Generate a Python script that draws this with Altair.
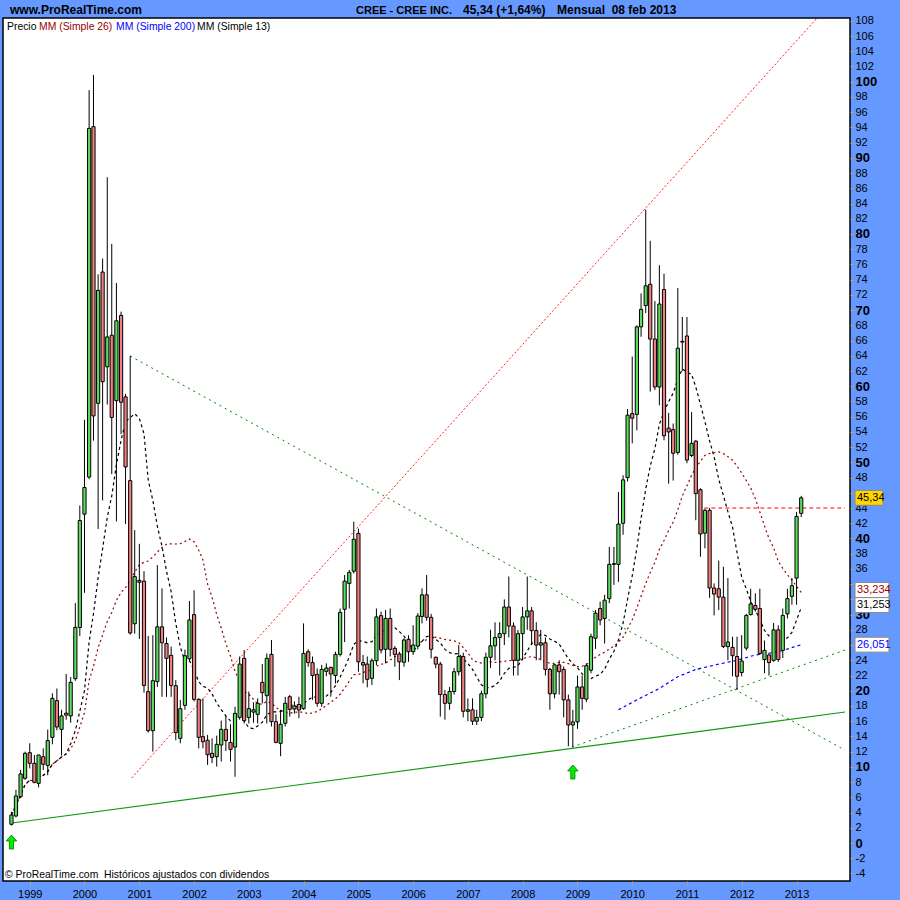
import altair as alt
import pandas as pd

# ---- Monthly OHLC bars, CREE INC., Sep 1998 .. Feb 2013 ----
opens = [
    2.46, 3.55, 6.09, 8.5, 11.87, 10.47, 7.84, 11.34, 10.2, 13.88,
    18.7, 14.93, 17.05, 16.69, 21.59, 28.3, 43.2, 48.07, 94.1, 57.76,
    75.0, 62.55, 66.7, 58.1, 69.3, 58.6, 47.6, 28.8, 34.5, 34.4,
    19.88, 14.76, 21.2, 28.4, 26.2, 24.65, 20.67, 13.75, 18.08, 24.2,
    30.0, 18.87, 13.97, 13.5, 11.78, 11.34, 12.87, 14.93, 13.2, 12.6,
    16.5, 24.26, 16.5, 17.2, 16.9, 21.1, 19.35, 24.78, 15.94, 13.09,
    15.72, 19.22, 17.6, 18.2, 17.65, 25.13, 23.7, 22.15, 18.35, 22.55,
    23.07, 22.0, 24.78, 30.7, 34.1, 35.7, 40.67, 23.7, 23.5, 21.63,
    23.95, 29.86, 25.44, 29.5, 25.57, 24.83, 23.74, 26.76, 25.13, 25.87,
    29.76, 32.6, 29.64, 24.4, 23.5, 19.5, 18.35, 19.9, 22.5, 24.5,
    17.3, 17.5, 16.0, 16.5, 19.6, 24.4, 25.9, 27.0, 27.5, 31.0,
    28.5, 24.0, 27.5, 29.7, 30.5, 27.9, 26.0, 26.3, 22.8, 19.6,
    23.4, 22.8, 18.8, 15.5, 15.9, 20.5, 18.9, 22.7, 26.9, 30.8,
    29.5, 32.1, 36.6, 36.6, 42.0, 48.0, 56.4, 56.3, 67.8, 70.6,
    73.4, 66.2, 59.9, 72.7, 54.5, 54.3, 51.3, 65.8, 66.6, 50.9,
    52.8, 46.4, 40.7, 43.7, 33.5, 33.4, 32.3, 25.8, 25.7, 24.5,
    22.4, 25.6, 30.0, 31.2, 30.8, 24.1, 24.7, 24.0, 28.0, 25.3,
    30.1, 32.4, 34.8, 43.3,
]
highs = [
    4.1, 6.97, 9.6, 12.0, 13.1, 11.56, 11.6, 12.44, 14.9, 19.66,
    20.3, 17.5, 22.2, 21.8, 31.5, 44.33, 55.6, 98.9, 100.9, 74.7,
    76.77, 87.45, 78.7, 73.56, 69.8, 59.0, 64.0, 41.1, 39.3, 35.7,
    27.2, 27.3, 36.5, 33.45, 27.0, 25.8, 21.4, 18.8, 25.4, 31.8,
    33.2, 19.0, 19.0, 14.2, 13.75, 14.1, 16.07, 16.7, 15.6, 17.9,
    24.5, 25.35, 19.9, 18.5, 19.0, 23.5, 24.9, 26.67, 16.9, 17.5,
    19.2, 19.44, 18.6, 19.2, 28.85, 25.44, 24.5, 22.94, 23.4, 23.6,
    23.16, 25.13, 30.8, 35.2, 35.86, 42.2, 41.3, 24.7, 24.5, 24.26,
    30.8, 30.4, 30.6, 30.8, 25.87, 25.13, 26.9, 27.3, 28.6, 30.2,
    33.45, 35.2, 30.1, 24.5, 23.8, 20.1, 20.5, 23.0, 26.0, 25.0,
    19.0, 19.0, 17.5, 20.0, 25.0, 28.0, 29.0, 29.0, 32.0, 35.0,
    29.0, 28.0, 31.0, 35.0, 31.0, 29.0, 28.0, 27.0, 23.0, 23.5,
    24.0, 23.2, 19.5, 17.5, 22.0, 22.0, 23.6, 27.5, 30.6, 31.7,
    32.6, 38.9, 38.9, 46.1, 48.3, 57.0, 63.9, 68.0, 72.2, 83.2,
    79.1, 71.2, 75.9, 74.8, 56.5, 55.1, 72.9, 69.1, 69.1, 56.6,
    52.9, 46.6, 43.9, 44.0, 34.1, 37.1, 36.3, 34.8, 27.1, 27.1,
    27.3, 30.1, 33.4, 32.8, 33.4, 26.6, 24.9, 28.9, 28.6, 30.8,
    33.4, 34.8, 43.5, 45.6,
]
lows = [
    2.3, 3.37, 5.9, 8.3, 9.8, 7.84, 7.3, 9.6, 8.9, 12.96,
    14.8, 11.48, 16.2, 15.8, 21.3, 27.2, 32.86, 47.8, 52.85, 41.25,
    45.0, 57.6, 48.46, 42.24, 53.7, 41.9, 27.36, 27.5, 26.8, 19.75,
    14.5, 12.0, 20.5, 19.2, 19.2, 19.2, 13.5, 13.1, 17.5, 23.8,
    18.6, 12.44, 12.44, 10.25, 10.5, 10.03, 10.7, 12.1, 10.7, 8.7,
    16.2, 15.7, 15.7, 15.8, 15.7, 18.35, 15.7, 15.3, 13.1, 11.4,
    15.3, 16.6, 17.0, 16.4, 17.5, 23.16, 18.8, 17.9, 17.9, 21.9,
    19.22, 20.97, 24.5, 26.4, 30.8, 35.4, 22.5, 20.97, 20.45, 20.75,
    23.38, 24.9, 23.6, 24.5, 23.16, 21.4, 23.16, 23.8, 24.7, 25.44,
    28.85, 29.2, 24.26, 22.94, 16.6, 16.2, 17.5, 19.5, 22.0, 16.5,
    16.0, 15.5, 15.5, 16.0, 19.0, 23.0, 24.0, 22.0, 26.0, 27.0,
    22.0, 22.0, 24.0, 28.0, 26.0, 24.0, 24.0, 22.0, 17.5, 19.0,
    19.5, 16.5, 12.7, 12.6, 15.0, 17.5, 18.5, 22.3, 25.5, 28.6,
    26.2, 31.5, 33.9, 34.3, 40.5, 47.5, 52.5, 54.2, 66.5, 69.6,
    59.3, 59.5, 57.5, 52.9, 47.2, 47.6, 51.0, 62.0, 49.9, 50.7,
    42.4, 37.6, 38.7, 32.2, 29.9, 30.6, 25.6, 24.0, 21.9, 20.1,
    21.9, 25.3, 29.9, 30.4, 24.7, 22.3, 22.0, 23.8, 23.8, 24.3,
    29.5, 31.3, 31.3, 42.8,
]
closes = [
    3.68, 6.18, 9.07, 11.78, 10.47, 7.97, 11.56, 10.34, 13.45, 19.0,
    15.24, 16.69, 16.8, 21.1, 28.33, 42.36, 46.7, 93.87, 56.1, 72.6,
    60.6, 66.48, 55.9, 68.6, 57.9, 49.4, 27.6, 35.0, 34.25, 20.7,
    14.76, 21.32, 28.4, 26.3, 24.26, 20.67, 14.5, 17.65, 24.6, 29.3,
    18.87, 13.88, 13.3, 11.6, 11.25, 12.96, 14.93, 13.45, 12.3, 17.03,
    23.5, 16.07, 17.65, 17.5, 18.35, 19.75, 24.26, 15.94, 13.22, 15.6,
    18.35, 17.56, 18.0, 17.47, 24.9, 23.7, 22.0, 18.35, 22.8, 22.99,
    22.2, 24.78, 30.3, 34.4, 35.55, 39.9, 23.8, 23.38, 21.5, 23.95,
    29.7, 25.35, 29.5, 25.44, 24.78, 23.8, 26.67, 25.13, 26.0, 29.82,
    32.6, 29.64, 25.44, 23.5, 19.5, 18.35, 19.9, 22.5, 24.5, 17.3,
    17.5, 16.0, 16.5, 19.6, 24.4, 25.9, 27.0, 27.5, 31.0, 28.5,
    24.0, 27.5, 29.7, 30.5, 27.9, 26.0, 26.3, 22.8, 19.6, 23.4,
    22.5, 18.8, 15.5, 15.9, 20.5, 19.0, 23.3, 27.1, 30.2, 29.3,
    31.9, 36.6, 36.7, 41.9, 47.7, 56.2, 55.8, 67.8, 70.1, 73.2,
    66.2, 59.9, 70.8, 53.5, 54.0, 51.2, 65.0, 65.9, 50.3, 52.5,
    45.9, 40.6, 43.7, 33.5, 32.7, 32.3, 25.8, 26.4, 24.6, 21.9,
    23.9, 29.9, 31.4, 30.7, 24.9, 25.3, 23.7, 28.0, 24.1, 29.9,
    32.1, 33.8, 42.9, 45.34,
]
months = pd.date_range("1998-09-01", periods=len(closes), freq="MS").strftime("%Y-%m-%d").tolist()

# 200-month simple average (needs history older than the bars shown)
ma200_dates = ["2009-10-01", "2010-02-01", "2010-07-01", "2010-11-01", "2011-03-01",
               "2011-08-01", "2011-12-01", "2012-04-01", "2012-09-01", "2013-02-01"]
ma200_values = [17.5, 18.8, 20.3, 21.85, 22.8, 23.5, 24.0, 24.7, 25.1, 26.051]

# Hand-drawn trend lines: (start date, end date), (start value, end value)
red_trend_dates = ["2000-11-10", "2013-05-18"]
red_trend_values = [8.54, 108.37]
green_down_dates = ["2000-11-01", "2013-11-20"]
green_down_values = [63.97, 12.2]
green_support_dates = ["1998-09-04", "2013-11-20"]
green_support_values = [2.63, 17.21]
green_up_dates = ["2008-11-25", "2013-11-20"]
green_up_values = [12.6, 25.35]
level44_dates = ["2011-04-27", "2013-11-20"]
level44_values = [44.0, 44.0]

# Last values shown in the price-axis badges
badge_values = [45.34, 33.234, 31.253, 26.051]
badge_texts = ["45,34", "33,234", "31,253", "26,051"]
badge_text_colors = ["#000000", "#990000", "#000000", "#0000ff"]
badge_fills = ["#ffd700", "#ffffff", "#ffffff", "#ffffff"]

year_ticks = list(range(1999, 2014))
price_ticks = list(range(-4, 109, 2))
covered_ticks = [46, 34, 32, 26]  # labels sitting under the badges

arrow_dates = ["1998-09-01", "2008-12-01"]
arrow_values = [0.13, 9.33]

BLUE = "#6699ff"
GREEN_BODY = "#5ddc5d"
RED_BODY = "#f08080"
FONT = "Liberation Sans"
TICK = "#b8a070"

bars = pd.DataFrame({"date": months, "open": opens, "high": highs,
                     "low": lows, "close": closes})

x_scale = alt.Scale(type="utc",
                    domain=[alt.DateTime(year=1998, month=8, date=9, utc=True),
                            alt.DateTime(year=2013, month=11, date=20, utc=True)])
y_scale = alt.Scale(domain=[-4.99, 108.37], nice=False, zero=False)

x_axis = alt.Axis(
    values=[alt.DateTime(year=y, month=1, date=1, utc=True) for y in year_ticks],
    format="%Y", formatType="utc", grid=False, domain=False,
    tickSize=4, tickColor=TICK, labelPadding=3, labelFont=FONT,
    labelFontSize=11, labelColor="black", title=None,
)
covered = ",".join(str(v) for v in covered_ticks)
y_axis = alt.Axis(
    orient="right", values=price_ticks, grid=False, domain=False,
    tickSize=4, tickColor=TICK, labelPadding=1, labelFont=FONT,
    labelColor="black",
    labelExpr=f"indexof([{covered}], datum.value) >= 0 ? '' : datum.value + ''",
    labelFontWeight={"condition": {"test": "datum.value % 10 === 0", "value": "bold"},
                     "value": "normal"},
    labelFontSize={"condition": {"test": "datum.value % 10 === 0", "value": 13},
                   "value": 11},
    labelOverlap=False, title=None,
)


def X(field="date"):
    return alt.X(f"{field}:T", scale=x_scale, axis=x_axis, title=None)


def Y(field):
    return alt.Y(f"{field}:Q", scale=y_scale, axis=y_axis, title=None)


def segment(dates, values, color, dash=None, width=1.0):
    df = pd.DataFrame({"date": dates, "v": values})
    kw = dict(color=color, strokeWidth=width, clip=True)
    if dash:
        kw["strokeDash"] = dash
    return alt.Chart(df).mark_line(**kw).encode(x=X(), y=Y("v"))


layers = []

# trend lines
layers.append(segment(green_support_dates, green_support_values, "#119911", width=1.2))
layers.append(segment(green_down_dates, green_down_values, "#008800", dash=[2, 4]))
layers.append(segment(green_up_dates, green_up_values, "#008800", dash=[2, 4]))
layers.append(segment(red_trend_dates, red_trend_values, "#ff2020", dash=[2, 2]))
layers.append(segment(level44_dates, level44_values, "#ff0000", dash=[4, 3]))

# moving averages
ma = alt.Chart(bars).transform_window(
    ma13="mean(close)", frame=[-12, 0], sort=[alt.SortField("date")]
).transform_window(
    ma26="mean(close)", frame=[-25, 0], sort=[alt.SortField("date")]
)
layers.append(ma.mark_line(color="#990000", strokeWidth=1.2, strokeDash=[2, 3]).encode(x=X(), y=Y("ma26")))
layers.append(ma.mark_line(color="#000000", strokeWidth=1.2, strokeDash=[3, 3]).encode(x=X(), y=Y("ma13")))
layers.append(
    alt.Chart(pd.DataFrame({"date": ma200_dates, "v": ma200_values}))
    .mark_line(color="#0000ff", strokeWidth=1.2, strokeDash=[3, 3])
    .encode(x=X(), y=Y("v"))
)

# candles: wicks then bodies
layers.append(alt.Chart(bars).mark_rule(color="black", strokeWidth=1).encode(x=X(), y=Y("low"), y2="high:Q"))
layers.append(
    alt.Chart(bars).mark_bar(size=3.2, stroke="black", strokeWidth=1).encode(
        x=X(), y=Y("open"), y2="close:Q",
        color=alt.condition("datum.close >= datum.open", alt.value(GREEN_BODY), alt.value(RED_BODY)),
    )
)

# green signal arrows
arrow_path = "M0,-1L0.75,-0.15L0.3,-0.15L0.3,1L-0.3,1L-0.3,-0.15L-0.75,-0.15Z"
layers.append(
    alt.Chart(pd.DataFrame({"date": arrow_dates, "v": arrow_values}))
    .mark_point(shape=arrow_path, size=196, filled=True, fill="#00ee00",
                stroke="#007700", strokeWidth=0.8, opacity=1)
    .encode(x=X(), y=Y("v"))
)

# price badges on the right axis
for val, txt, tcol, fcol in zip(badge_values, badge_texts, badge_text_colors, badge_fills):
    w = 28 if len(txt) == 5 else 34
    bdf = pd.DataFrame({"top": [val + 0.98], "bot": [val - 0.98], "v": [val], "t": [txt]})
    layers.append(
        alt.Chart(bdf).mark_rect(fill=fcol, stroke="#888888", strokeWidth=1)
        .encode(x=alt.value(852), x2=alt.value(852 + w), y=Y("top"), y2="bot:Q")
    )
    layers.append(
        alt.Chart(bdf).mark_text(align="left", baseline="middle", font=FONT, fontSize=11, color=tcol)
        .encode(x=alt.value(854), y=Y("v"), text="t:N")
    )


def label(txt, px, py, color="black", bold=False, size=10.4):
    return alt.Chart(pd.DataFrame({"t": [txt]})).mark_text(
        align="left", baseline="alphabetic", font=FONT, fontSize=size,
        fontWeight="bold" if bold else "normal", color=color,
    ).encode(x=alt.value(px), y=alt.value(py), text="t:N")


# header bar texts
header_texts = ["www.ProRealTime.com", "CREE - CREE INC.", "45,34 (+1,64%)", "Mensual \u00a008 feb 2013"]
header_x = [7, 353, 460, 554]
header_sizes = [12, 11, 12, 12]
for t, px, s in zip(header_texts, header_x, header_sizes):
    layers.append(label(t, px, -4, bold=True, size=s))

# indicator legend
legend_texts = ["Precio", "MM (Simple 26)", "MM (Simple 200)", "MM (Simple 13)"]
legend_x = [4, 36, 113, 194]
legend_colors = ["#000000", "#990000", "#0000ff", "#000000"]
for t, px, c in zip(legend_texts, legend_x, legend_colors):
    layers.append(label(t, px, 12, color=c))

# footer note
layers.append(label("© ProRealTime.com", 2, 860))
layers.append(label("Históricos ajustados con dividendos", 101, 860))

chart = alt.layer(*layers).properties(
    width=847, height=863,
    padding={"left": 3, "top": 18, "right": 50, "bottom": 19},
    autosize=alt.AutoSizeParams(type="none"),
    background=BLUE,
).configure_view(fill="white", stroke="black", strokeWidth=1.5)

chart.save("out.html", embed_options={"renderer": "svg", "actions": False})
